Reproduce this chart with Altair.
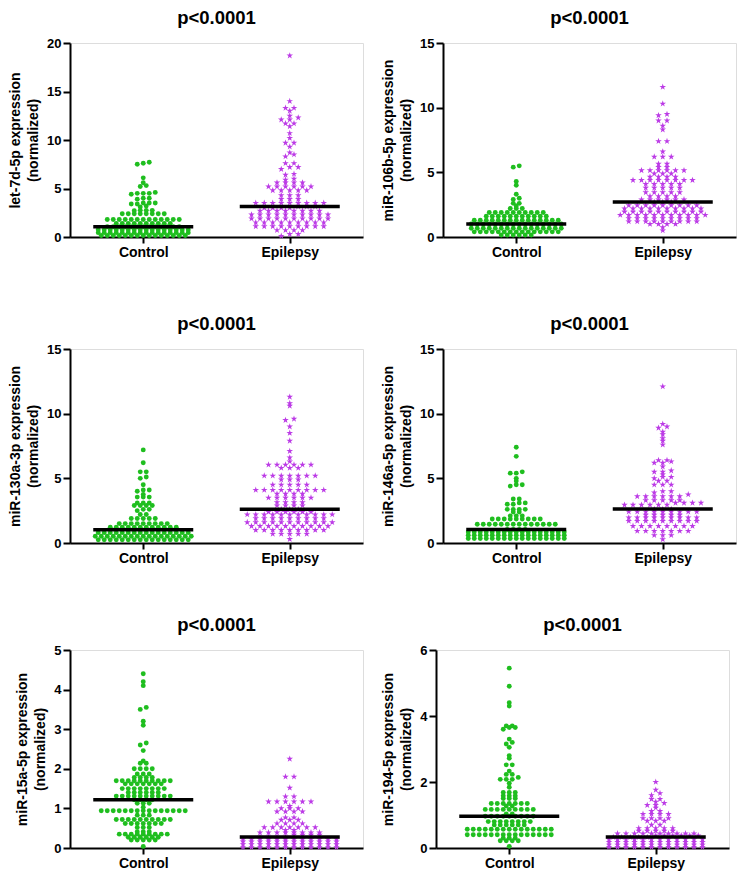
import altair as alt
import pandas as pd

GROUPS = ["Control", "Epilepsy"]

# ---- values (normalized expression) ----
let7d_control = [
    7.7, 7.6, 7.5, 6.1, 5.6, 5.3, 5.2,
    4.6, 4.5, 4.5, 4.5, 4.4, 4.0, 4.0, 3.9,
    3.5, 3.5, 3.5, 3.4, 3.4, 3.2, 3.1,
    2.75, 2.75, 2.7, 2.75,
    2.4, 2.4, 2.4, 2.4, 2.4, 2.4, 2.4, 2.4,
    1.8, 1.8, 1.8, 1.8, 1.8, 1.8, 1.8, 1.8, 1.8, 1.8, 1.8, 1.8, 1.8,
    1.4, 1.4, 1.4, 1.4, 1.4, 1.4, 1.4, 1.4, 1.4, 1.4,
    1.05, 1.05, 1.05, 1.05, 1.05, 1.05, 1.05, 1.05, 1.05, 1.05, 1.05, 1.05, 1.05,
    0.75, 0.75, 0.75, 0.75, 0.75, 0.75, 0.75, 0.75, 0.75, 0.75, 0.75, 0.75, 0.75, 0.75, 0.75, 0.75,
    0.45, 0.45, 0.45, 0.45, 0.45, 0.45, 0.45, 0.45, 0.45, 0.45, 0.45, 0.45, 0.45, 0.45, 0.45, 0.45,
    0.15, 0.15, 0.15, 0.15, 0.15, 0.15, 0.15, 0.15, 0.15, 0.15, 0.15, 0.15, 0.15, 0.15, 0.15,
]
let7d_epilepsy = [
    18.7, 14.0, 13.3, 13.3, 13.0, 12.5, 12.3, 12.1, 12.1, 11.7, 11.7, 11.4,
    10.7, 10.2, 9.7, 9.7, 9.3, 8.7, 8.5, 8.3, 7.6, 7.6, 7.2, 7.2, 7.0,
    6.5, 6.4, 6.0, 5.9, 5.6, 5.6, 5.6, 5.6,
    5.2, 5.2, 5.2, 5.2, 5.2, 5.2, 4.8, 4.8, 4.8, 4.8, 4.8,
    4.3, 4.3, 4.3, 3.9, 3.9, 3.9,
    3.5, 3.5, 3.5, 3.5, 3.5, 3.5, 3.5, 3.5, 3.5,
    3.15, 3.15, 3.15, 3.0, 3.0, 3.0, 3.0,
    2.7, 2.7, 2.7, 2.7, 2.7, 2.7, 2.7, 2.7,
    2.3, 2.3, 2.3, 2.3, 2.3, 2.3, 2.3, 2.3, 2.3, 2.3,
    1.9, 1.9, 1.9, 1.9, 1.9, 1.9, 1.9, 1.9, 1.9, 1.9,
    1.5, 1.5, 1.5, 1.5, 1.5, 1.5, 1.5, 1.5, 1.5,
    1.1, 1.1, 1.1, 1.1, 1.1, 1.1, 1.1, 1.1, 1.1,
    0.7, 0.7, 0.7, 0.7, 0.3, 0.3, 0.1,
]

mir106b_control = [
    5.5, 5.4, 4.3, 4.0, 3.3, 3.0, 2.9, 2.6, 2.6, 2.4, 2.2, 2.2, 2.2,
    1.9, 1.9, 1.9, 1.9, 1.9, 1.9, 1.9, 1.9, 1.9, 1.9,
    1.6, 1.6, 1.6, 1.6, 1.6, 1.6, 1.6, 1.6, 1.6, 1.6, 1.6,
    1.3, 1.3, 1.3, 1.3, 1.3, 1.3, 1.3, 1.3, 1.3, 1.3, 1.3, 1.3, 1.3, 1.3, 1.3,
    1.0, 1.0, 1.0, 1.0, 1.0, 1.0, 1.0, 1.0, 1.0, 1.0, 1.0, 1.0, 1.0, 1.0, 1.0, 1.0,
    0.68, 0.68, 0.68, 0.68, 0.68, 0.68, 0.68, 0.68, 0.68, 0.68, 0.68, 0.68, 0.68, 0.68, 0.68, 0.68,
    0.4, 0.4, 0.4, 0.4, 0.4, 0.4, 0.4, 0.4, 0.4, 0.4, 0.4, 0.4, 0.4, 0.4, 0.4,
    0.15, 0.15, 0.15, 0.15, 0.15, 0.15,
]
mir106b_epilepsy = [
    11.6, 10.3, 9.5, 9.4, 9.0, 9.0, 8.6, 8.3, 7.4, 7.4, 6.6, 6.2, 6.2, 6.2,
    5.65, 5.65, 5.4, 5.4, 5.15, 5.15, 5.15, 5.15, 5.15, 5.15,
    4.9, 4.9, 4.9, 4.65, 4.65, 4.65, 4.65,
    4.4, 4.4, 4.4, 4.4, 4.4, 4.4, 4.4, 4.4,
    4.1, 4.1, 4.1, 4.1, 4.1, 3.8, 3.8, 3.8, 3.8, 3.8,
    3.45, 3.45, 3.45, 3.45, 3.45, 3.15, 3.15, 3.15, 3.15,
    2.9, 2.9, 2.9, 2.9, 2.9, 2.9, 2.7, 2.7, 2.7,
    2.45, 2.45, 2.45, 2.45, 2.45, 2.45, 2.45, 2.45, 2.45,
    2.2, 2.2, 2.2, 2.2, 2.2, 2.2, 2.2, 2.2, 2.2, 2.2,
    1.95, 1.95, 1.95, 1.95, 1.95, 1.95, 1.95, 1.95, 1.95, 1.95,
    1.7, 1.7, 1.7, 1.7, 1.7, 1.7, 1.7, 1.7, 1.7, 1.7, 1.7,
    1.45, 1.45, 1.45, 1.45, 1.45, 1.45, 1.45, 1.45, 1.45,
    1.2, 1.2, 1.2, 1.2, 1.2, 1.2, 1.2, 1.2, 1.2,
    1.0, 1.0, 1.0, 1.0, 0.75, 0.5,
]

mir130a_control = [
    7.2, 6.2, 5.5, 5.5, 5.1, 5.0, 4.5, 4.1, 4.1, 4.0, 3.75, 3.55, 3.55, 3.55,
    3.1, 3.1, 3.1, 2.9, 2.9, 2.9, 2.9, 2.6, 2.6, 2.5, 2.2, 2.2,
    1.9, 1.9, 1.9, 1.9, 1.9,
    1.5, 1.5, 1.5, 1.5, 1.5, 1.5, 1.5, 1.5, 1.5,
    1.22, 1.22, 1.22, 1.22, 1.22, 1.22, 1.22, 1.22, 1.22, 1.22, 1.22, 1.22,
    1.03, 1.03, 1.03, 1.03, 1.03, 1.03,
    0.8, 0.8, 0.8, 0.8, 0.8, 0.8, 0.8, 0.8, 0.8, 0.8, 0.8, 0.8, 0.8, 0.8, 0.8, 0.8,
    0.52, 0.52, 0.52, 0.52, 0.52, 0.52, 0.52, 0.52, 0.52, 0.52, 0.52, 0.52, 0.52, 0.52, 0.52, 0.52, 0.52,
    0.25, 0.25, 0.25, 0.25, 0.25, 0.25, 0.25, 0.25, 0.25, 0.25, 0.25, 0.25, 0.25, 0.25, 0.25, 0.25,
]
mir130a_epilepsy = [
    11.3, 10.8, 10.6, 9.6, 9.5, 9.0, 8.5, 7.9, 7.1, 6.6, 6.3,
    6.05, 6.05, 6.05, 6.05, 6.05, 6.05, 5.8, 5.8, 5.8,
    5.2, 5.2, 5.2, 5.2, 5.2, 5.2, 5.2, 4.9, 4.9, 4.9,
    4.5, 4.5, 4.5, 4.5, 4.5,
    4.1, 4.1, 4.1, 4.1, 4.1, 4.1, 4.1, 4.1, 4.1,
    3.8, 3.8, 3.8, 3.8, 3.5, 3.5, 3.5, 3.5, 3.5, 3.5,
    3.15, 3.15, 3.15, 3.15, 2.9, 2.9, 2.9, 2.9,
    2.6, 2.6, 2.6,
    2.4, 2.4, 2.4, 2.4, 2.4, 2.4,
    2.2, 2.2, 2.2, 2.2, 2.2, 2.2, 2.2, 2.2, 2.2, 2.2, 2.2,
    1.9, 1.9, 1.9, 1.9, 1.9, 1.9, 1.9, 1.9, 1.9,
    1.6, 1.6, 1.6, 1.6, 1.6, 1.6, 1.6, 1.6, 1.6, 1.6, 1.6,
    1.3, 1.3, 1.3, 1.3, 1.3, 1.3, 1.3, 1.3, 1.3, 1.3,
    1.0, 1.0, 1.0, 1.0, 1.0, 1.0, 1.0, 1.0, 1.0,
    0.7, 0.7, 0.7, 0.7, 0.7, 0.3,
]

mir146a_control = [
    7.4, 6.7, 5.5, 5.4, 5.4, 5.0, 4.8, 4.5, 4.5, 4.4,
    3.4, 3.4, 3.1, 3.1, 3.0, 3.0, 2.6, 2.6, 2.6, 2.6, 2.4, 2.4, 2.1, 2.1, 2.1,
    1.85, 1.85, 1.85, 1.85, 1.85, 1.85, 1.85, 1.85, 1.85,
    1.45, 1.45, 1.45, 1.45, 1.45, 1.45, 1.45, 1.45, 1.45, 1.45, 1.45, 1.45, 1.45, 1.45,
    1.05, 1.05, 1.05, 1.05,
    0.85, 0.85, 0.85, 0.85, 0.85, 0.85, 0.85, 0.85, 0.85, 0.85, 0.85, 0.85, 0.85, 0.85, 0.85, 0.85, 0.85,
    0.6, 0.6, 0.6, 0.6, 0.6, 0.6, 0.6, 0.6, 0.6, 0.6, 0.6, 0.6, 0.6, 0.6, 0.6, 0.6, 0.6,
    0.35, 0.35, 0.35, 0.35, 0.35, 0.35, 0.35, 0.35, 0.35, 0.35, 0.35, 0.35, 0.35, 0.35, 0.35, 0.35, 0.35,
]
mir146a_epilepsy = [
    12.1, 9.2, 9.0, 8.9, 8.6, 8.4, 8.1, 7.9, 7.6,
    6.4, 6.4, 6.3, 6.2, 6.2, 5.9,
    5.6, 5.5, 5.5, 5.3, 5.1, 5.1, 5.0, 4.8, 4.8, 4.5, 4.5, 4.5,
    4.0, 4.0, 3.9, 3.75, 3.6, 3.6, 3.6, 3.6, 3.6, 3.6,
    3.3, 3.3, 3.3, 3.3, 3.3, 3.1, 3.1, 3.1, 3.1,
    2.95, 2.95, 2.95, 2.95, 2.95, 2.95, 2.62, 2.62, 2.62,
    2.42, 2.42, 2.42, 2.42, 2.42, 2.42, 2.42, 2.42, 2.42,
    2.17, 2.17, 2.17, 2.17, 2.17,
    1.96, 1.96, 1.96, 1.96, 1.96, 1.96, 1.96, 1.96, 1.96,
    1.7, 1.7, 1.7, 1.7, 1.7, 1.7, 1.7, 1.7, 1.7,
    1.31, 1.31, 1.31, 1.31, 1.31, 1.31, 1.31, 1.31,
    0.93, 0.93, 0.93, 0.93, 0.93, 0.93, 0.93,
    0.6, 0.6, 0.6, 0.28,
]

mir15a_control = [
    4.4, 4.2, 4.1, 3.55, 3.5, 3.2, 3.1, 2.65, 2.6, 2.46, 2.2, 2.14, 2.14,
    2.0, 2.0, 2.0, 2.0, 1.87, 1.87, 1.87, 1.78, 1.78, 1.78, 1.78,
    1.7, 1.7, 1.7, 1.7, 1.7, 1.7, 1.7, 1.7, 1.7, 1.7,
    1.62, 1.62, 1.62, 1.62, 1.62, 1.62, 1.62,
    1.5, 1.5, 1.5, 1.5, 1.5, 1.5, 1.5, 1.5,
    1.4, 1.4, 1.4, 1.4, 1.4, 1.4,
    1.31, 1.31, 1.31, 1.31, 1.31, 1.31, 1.31, 1.31, 1.31, 1.31,
    1.22, 1.22, 1.22, 1.22,
    1.13, 1.13, 1.13, 1.03,
    0.94, 0.94, 0.94, 0.94, 0.94, 0.94, 0.94, 0.94, 0.94, 0.94, 0.94, 0.94, 0.94, 0.94, 0.94,
    0.83, 0.83, 0.83,
    0.72, 0.72, 0.72, 0.72, 0.72, 0.72, 0.72, 0.72, 0.72, 0.72,
    0.62, 0.62, 0.62, 0.62, 0.62, 0.62, 0.62,
    0.52, 0.52, 0.52, 0.41, 0.41, 0.41,
    0.35, 0.35, 0.35, 0.35, 0.35, 0.35, 0.35, 0.35, 0.35,
    0.27, 0.27, 0.27, 0.27, 0.27, 0.27,
    0.2, 0.2, 0.2, 0.2, 0.2, 0.04,
]
mir15a_epilepsy = [
    2.25, 1.8, 1.8, 1.52, 1.3, 1.3,
    1.17, 1.17, 1.17, 1.17, 1.17, 1.17, 1.06, 1.0, 1.0, 1.0,
    0.92, 0.92, 0.92, 0.92, 0.77, 0.77, 0.71, 0.71, 0.71,
    0.62, 0.62, 0.62, 0.62, 0.52, 0.52, 0.52, 0.52, 0.52, 0.52, 0.52,
    0.45, 0.45, 0.39, 0.39, 0.39, 0.39, 0.39, 0.39, 0.39, 0.39,
    0.33, 0.33, 0.33, 0.33, 0.28, 0.28, 0.28, 0.28,
    0.22, 0.22, 0.22, 0.22, 0.22, 0.22, 0.22, 0.22, 0.22, 0.22, 0.22, 0.22,
    0.16, 0.16, 0.16, 0.16, 0.16, 0.16, 0.16, 0.16, 0.16, 0.16, 0.16, 0.16,
    0.09, 0.09, 0.09, 0.09, 0.09, 0.09, 0.09, 0.09, 0.09, 0.09, 0.09, 0.09,
    0.02, 0.02, 0.02, 0.02, 0.02, 0.02, 0.02, 0.02, 0.02, 0.02, 0.02, 0.02,
]

mir194_control = [
    5.45, 4.9, 4.4, 4.3, 3.7, 3.7, 3.65, 3.65, 3.6, 3.3, 3.2, 3.15, 3.05,
    2.8, 2.72, 2.52, 2.52, 2.33, 2.23, 2.23, 2.14, 2.08, 2.08, 2.08,
    1.96, 1.84, 1.68, 1.68, 1.68, 1.58, 1.58, 1.58, 1.5, 1.5, 1.5,
    1.35, 1.35, 1.35, 1.35, 1.35, 1.35, 1.35, 1.27, 1.27,
    1.17, 1.17, 1.17, 1.17, 1.17, 1.17, 1.17, 1.17, 1.17, 1.03, 1.03,
    0.96, 0.96, 0.96, 0.96, 0.96, 0.96, 0.96, 0.96, 0.96,
    0.8, 0.8, 0.8, 0.8, 0.8, 0.8, 0.8, 0.8,
    0.7, 0.7, 0.7, 0.7, 0.7, 0.7,
    0.57, 0.57, 0.57, 0.57, 0.57, 0.57, 0.57, 0.57, 0.57, 0.57, 0.57, 0.57, 0.57, 0.57, 0.57,
    0.4, 0.4, 0.4, 0.4, 0.4, 0.4, 0.4, 0.4, 0.4, 0.4, 0.4, 0.4, 0.4, 0.4, 0.4,
    0.3, 0.3, 0.3, 0.22, 0.22, 0.22, 0.22, 0.05,
]
mir194_epilepsy = [
    2.0, 1.76, 1.66, 1.6, 1.48, 1.48, 1.4, 1.36, 1.3, 1.3, 1.22, 1.12, 1.12,
    1.03, 1.03, 1.03, 1.03, 0.9, 0.9, 0.9, 0.9, 0.82, 0.82, 0.82, 0.7, 0.7,
    0.6, 0.6, 0.6, 0.6, 0.6, 0.52, 0.52, 0.52, 0.52, 0.52,
    0.44, 0.44, 0.44, 0.44, 0.44, 0.44, 0.44, 0.44, 0.44, 0.44,
    0.38, 0.38, 0.38, 0.38, 0.38, 0.38, 0.33, 0.33, 0.33, 0.33, 0.33,
    0.26, 0.26, 0.26, 0.26, 0.26, 0.26, 0.26, 0.26, 0.26, 0.26, 0.26, 0.26,
    0.18, 0.18, 0.18, 0.18, 0.18, 0.18, 0.18, 0.18, 0.18, 0.18, 0.18, 0.18,
    0.1, 0.1, 0.1, 0.1, 0.1, 0.1, 0.1, 0.1, 0.1, 0.1, 0.1, 0.1,
    0.03, 0.03, 0.03, 0.03, 0.03, 0.03, 0.03, 0.03, 0.03, 0.03, 0.03, 0.03,
]

panel_names = ["let-7d-5p", "miR-106b-5p", "miR-130a-3p", "miR-146a-5p", "miR-15a-5p", "miR-194-5p"]
panel_control = [let7d_control, mir106b_control, mir130a_control, mir146a_control, mir15a_control, mir194_control]
panel_epilepsy = [let7d_epilepsy, mir106b_epilepsy, mir130a_epilepsy, mir146a_epilepsy, mir15a_epilepsy, mir194_epilepsy]
panel_ymax = [20, 15, 15, 15, 5, 6]
panel_ticks = [[0, 5, 10, 15, 20], [0, 5, 10, 15], [0, 5, 10, 15], [0, 5, 10, 15], [0, 1, 2, 3, 4, 5], [0, 2, 4, 6]]
p_label = "p<0.0001"

# ---- style / layout ----
W = 293
ROW_H = [194, 194, 198]
GREEN = "#1FBE1F"
PURPLE = "#BC3BE6"
STAR = ("M0,-1L0.2245,-0.309L0.9511,-0.309L0.3633,0.118L0.5878,0.809L0,0.382"
        "L-0.5878,0.809L-0.3633,0.118L-0.9511,-0.309L-0.2245,-0.309Z")
FONT = "Liberation Sans"
SPACING_PX = [6.0, 8.5]   # horizontal spacing of symbols in a swarm row
ROW_PX = 2.2              # values closer than this (in px) share a row
MED_HALF_PX = 50


def swarm_offsets(values, ymax, h, spacing):
    """Row-based beeswarm: bin values into pixel rows, centre each row."""
    ppu = h / ymax
    order = sorted(range(len(values)), key=lambda i: values[i])
    rows, cur, start = [], [], None
    for i in order:
        py = values[i] * ppu
        if cur and py - start < ROW_PX:
            cur.append(i)
        else:
            if cur:
                rows.append(cur)
            cur, start = [i], py
    if cur:
        rows.append(cur)
    off = [0.0] * len(values)
    for row in rows:
        n = len(row)
        for k, i in enumerate(row):
            off[i] = (k - (n - 1) / 2) * spacing
    return off


def panel(idx, h):
    name = panel_names[idx]
    ymax = panel_ymax[idx]
    px_per_x = W / 2.0
    recs = []
    for g, vals in enumerate([panel_control[idx], panel_epilepsy[idx]]):
        offs = swarm_offsets(vals, ymax, h, SPACING_PX[g])
        for v, o in zip(vals, offs):
            recs.append({"group": GROUPS[g], "gidx": g, "value": v, "xpos": g + o / px_per_x})
    df = pd.DataFrame(recs)

    xscale = alt.Scale(domain=[-0.5, 1.5], nice=False, zero=False)
    yscale = alt.Scale(domain=[0, ymax], nice=False, zero=True)
    xaxis = alt.Axis(values=[0, 1], labelExpr="datum.value == 0 ? 'Control' : 'Epilepsy'",
                     title=None, grid=False, domainColor="black", domainWidth=2,
                     tickColor="black", tickWidth=2, tickSize=6, labelFont=FONT,
                     labelFontWeight="bold", labelFontSize=14, labelColor="black",
                     labelPadding=2)
    yaxis = alt.Axis(values=panel_ticks[idx], title=[f"{name} expression", "(normalized)"],
                     grid=False, domainColor="black", domainWidth=2, tickColor="black",
                     tickWidth=2, tickSize=7, labelFont=FONT, labelFontWeight="bold",
                     labelFontSize=13, labelColor="black", labelPadding=2,
                     titleFont=FONT, titleFontWeight="bold", titleFontSize=14,
                     titleColor="black", titleLineHeight=18, titlePadding=6)

    base = alt.Chart(df)
    ctrl = base.transform_filter(alt.datum.gidx == 0).mark_point(
        filled=True, shape="circle", size=24, color=GREEN, opacity=1).encode(
        x=alt.X("xpos:Q", scale=xscale, axis=xaxis),
        y=alt.Y("value:Q", scale=yscale, axis=yaxis))
    epi = base.transform_filter(alt.datum.gidx == 1).mark_point(
        filled=True, shape=STAR, size=48, color=PURPLE, opacity=1).encode(
        x=alt.X("xpos:Q", scale=xscale, axis=xaxis),
        y=alt.Y("value:Q", scale=yscale, axis=yaxis))
    half = MED_HALF_PX / px_per_x
    med = base.transform_aggregate(med="median(value)", groupby=["gidx"]).transform_calculate(
        xa=f"datum.gidx - {half}", xb=f"datum.gidx + {half}").mark_rule(
        color="black", strokeWidth=3.5).encode(
        x=alt.X("xa:Q", scale=xscale, axis=xaxis), x2="xb:Q",
        y=alt.Y("med:Q", scale=yscale, axis=yaxis))
    return alt.layer(ctrl, epi, med).properties(
        width=W, height=h,
        title=alt.TitleParams(p_label, font=FONT, fontSize=18.5, fontWeight="bold",
                              color="black", anchor="middle", frame="group", offset=10))


rows = []
for r in range(3):
    rows.append(alt.hconcat(panel(2 * r, ROW_H[r]), panel(2 * r + 1, ROW_H[r]), spacing=17))

top = alt.vconcat(rows[0], rows[1], spacing=54)
chart = alt.vconcat(top, rows[2], spacing=49).properties(
    padding={"left": 0, "top": 0, "right": 0, "bottom": 0}
).configure_view(stroke=None).configure(background="white")

chart.save("out.html", embed_options={"renderer": "svg", "actions": False})
